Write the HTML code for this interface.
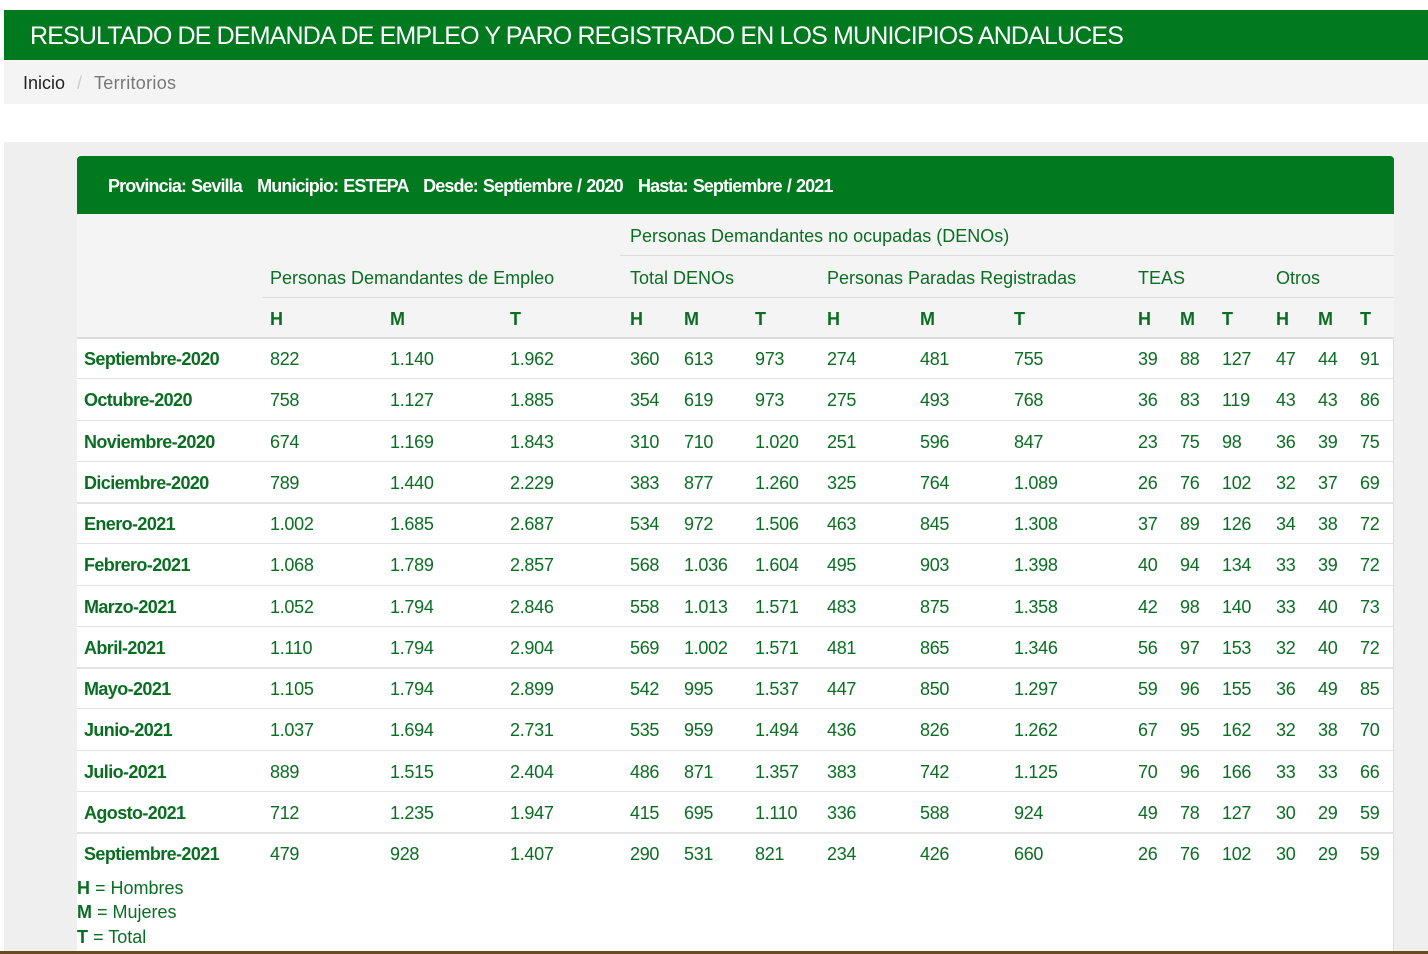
<!DOCTYPE html>
<html><head><meta charset="utf-8"><style>
body{margin:0;width:1428px;height:954px;overflow:hidden;background:#fff;font-family:"Liberation Sans",sans-serif;position:relative}
.a{position:absolute;white-space:nowrap}
.g{color:#0a6e22}
.hd{color:#0a6e22;font-size:18px}
.b{font-weight:bold}
.cell{position:absolute;font-size:18px;color:#0a6e22;letter-spacing:-0.3px}
</style></head><body>
<div class="a" style="left:4px;top:10px;width:1424px;height:50px;background:#00791f"></div>
<div class="a" style="left:30px;top:22px;font-size:25px;color:#fff;letter-spacing:-0.85px">RESULTADO DE DEMANDA DE EMPLEO Y PARO REGISTRADO EN LOS MUNICIPIOS ANDALUCES</div>
<div class="a" style="left:4px;top:60px;width:1424px;height:44px;background:#f4f4f4"></div>
<div class="a" style="left:23px;top:73px;font-size:18px;color:#222">Inicio</div>
<div class="a" style="left:77px;top:73px;font-size:18px;color:#ccc">/</div>
<div class="a" style="left:94px;top:73px;font-size:18px;color:#777;letter-spacing:0.3px">Territorios</div>
<div class="a" style="left:4px;top:142px;width:1424px;height:812px;background:#efefef"></div>
<div class="a" style="left:77px;top:156px;width:1316px;height:798px;background:#fff;border-right:1px solid #ddd;border-radius:4px 4px 0 0"></div>
<div class="a" style="left:77px;top:156px;width:1317px;height:58px;background:#00791f;border-radius:4px 4px 0 0"></div>
<div class="a b" style="left:108px;top:176px;font-size:18px;color:#fff;letter-spacing:-0.9px;word-spacing:1px">Provincia: Sevilla &nbsp;&nbsp;Municipio: ESTEPA &nbsp;&nbsp;Desde: Septiembre / 2020 &nbsp;&nbsp;Hasta: Septiembre / 2021</div>
<div class="a" style="left:77px;top:214px;width:1317px;height:124px;background:#f4f4f4"></div>
<div class="a" style="left:620px;top:255px;width:774px;height:1px;background:#ddd"></div>
<div class="a" style="left:262px;top:297px;width:1132px;height:1px;background:#ddd"></div>
<div class="a" style="left:77px;top:337px;width:1317px;height:2px;background:#ddd"></div>
<div class="a hd" style="left:630px;top:226px">Personas Demandantes no ocupadas (DENOs)</div>
<div class="a hd" style="left:270px;top:268px">Personas Demandantes de Empleo</div>
<div class="a hd" style="left:630px;top:268px">Total DENOs</div>
<div class="a hd" style="left:827px;top:268px">Personas Paradas Registradas</div>
<div class="a hd" style="left:1138px;top:268px">TEAS</div>
<div class="a hd" style="left:1276px;top:268px">Otros</div>
<div id="t"></div>
<div class="a g" style="left:77px;top:878px;font-size:18px"><b>H</b> = Hombres</div>
<div class="a g" style="left:77px;top:902px;font-size:18px"><b>M</b> = Mujeres</div>
<div class="a g" style="left:77px;top:927px;font-size:18px"><b>T</b> = Total</div>
<div class="a" style="left:0;top:951px;width:1428px;height:3px;background:#6b4a22"></div>
<script>
const months=["Septiembre-2020","Octubre-2020","Noviembre-2020","Diciembre-2020","Enero-2021","Febrero-2021","Marzo-2021","Abril-2021","Mayo-2021","Junio-2021","Julio-2021","Agosto-2021","Septiembre-2021"];
const demH=["822","758","674","789","1.002","1.068","1.052","1.110","1.105","1.037","889","712","479"];
const demM=["1.140","1.127","1.169","1.440","1.685","1.789","1.794","1.794","1.794","1.694","1.515","1.235","928"];
const demT=["1.962","1.885","1.843","2.229","2.687","2.857","2.846","2.904","2.899","2.731","2.404","1.947","1.407"];
const denH=["360","354","310","383","534","568","558","569","542","535","486","415","290"];
const denM=["613","619","710","877","972","1.036","1.013","1.002","995","959","871","695","531"];
const denT=["973","973","1.020","1.260","1.506","1.604","1.571","1.571","1.537","1.494","1.357","1.110","821"];
const parH=["274","275","251","325","463","495","483","481","447","436","383","336","234"];
const parM=["481","493","596","764","845","903","875","865","850","826","742","588","426"];
const parT=["755","768","847","1.089","1.308","1.398","1.358","1.346","1.297","1.262","1.125","924","660"];
const teaH=["39","36","23","26","37","40","42","56","59","67","70","49","26"];
const teaM=["88","83","75","76","89","94","98","97","96","95","96","78","76"];
const teaT=["127","119","98","102","126","134","140","153","155","162","166","127","102"];
const otH=["47","43","36","32","34","33","33","32","36","32","33","30","30"];
const otM=["44","43","39","37","38","39","40","40","49","38","33","29","29"];
const otT=["91","86","75","69","72","72","73","72","85","70","66","59","59"];
const series=[demH,demM,demT,denH,denM,denT,parH,parM,parT,teaH,teaM,teaT,otH,otM,otT];
const subLabels=["H","M","T","H","M","T","H","M","T","H","M","T","H","M","T"];
const colX=[270,390,510,630,684,755,827,920,1014,1138,1180,1222,1276,1318,1360];
const t=document.getElementById('t');
const top0=338,rowH=41.25;
subLabels.forEach((s,j)=>{const d=document.createElement('div');d.className='cell b';


d.style.left=colX[j]+'px';d.style.top='309px';d.textContent=s;t.appendChild(d);});
months.forEach((m,i)=>{const y=top0+i*rowH;
if(i>0){const l=document.createElement('div');l.className='a';


l.style.cssText='left:77px;top:'+(y-1)+'px;width:1317px;height:'+((i==4||i==8||i==12)?2:1)+'px;background:#e2e2e2';t.appendChild(l);}
const d=document.createElement('div');d.className='cell b';


d.style.left='84px';d.style.top=(y+11)+'px';d.style.letterSpacing='-0.6px';d.textContent=m;t.appendChild(d);
series.forEach((s,j)=>{const c=document.createElement('div');c.className='cell';


c.style.left=colX[j]+'px';c.style.top=(y+11)+'px';c.textContent=s[i];t.appendChild(c);});
});
</script>
</body></html>
